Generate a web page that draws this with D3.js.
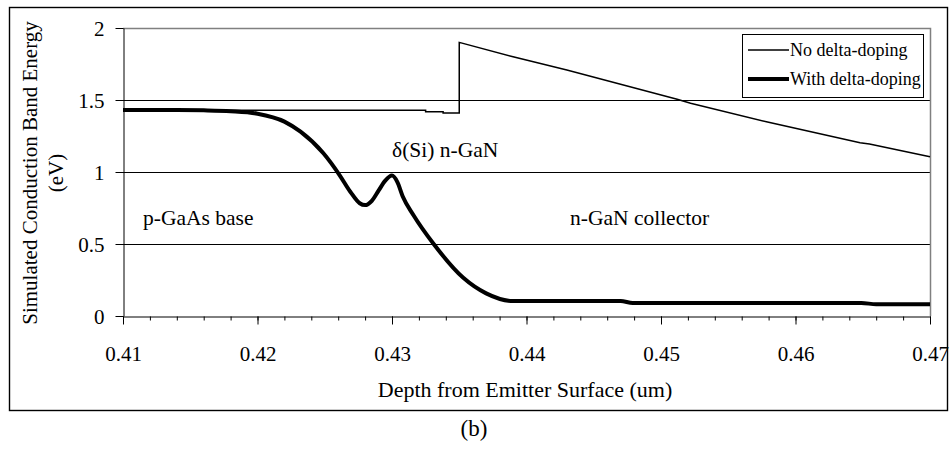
<!DOCTYPE html>
<html>
<head>
<meta charset="utf-8">
<script src="https://cdn.jsdelivr.net/npm/d3@7"></script>
<style>
  body { margin: 0; background: #fff; }
</style>
</head>
<body>
<div id="main"></div>
<script>
// depth (um) vs conduction band energy (eV)
var noDopingDepth  = [0.410, 0.4325, 0.4325, 0.4338, 0.4338, 0.4350, 0.4350, 0.4390, 0.4430, 0.4512, 0.4522, 0.4580, 0.4648, 0.4655, 0.4700];
var noDopingEnergy = [1.428, 1.428,  1.418,  1.418,  1.410,  1.410,  1.900,  1.800,  1.708,  1.505,  1.477,  1.345,  1.203,  1.195,  1.106];

var withDopingDepth  = [0.410, 0.414, 0.416, 0.418, 0.420, 0.422, 0.4232, 0.4249, 0.4261, 0.4269, 0.4276, 0.4280, 0.4285, 0.4290, 0.4295, 0.4300, 0.4304, 0.4308, 0.4316, 0.4331, 0.4353, 0.4370, 0.4390, 0.4470, 0.4479, 0.4649, 0.4660, 0.4700];
var withDopingEnergy = [1.430, 1.430, 1.428, 1.422, 1.405, 1.350, 1.280,  1.130,  0.979,  0.863,  0.783,  0.770,  0.800,  0.870,  0.940,  0.975,  0.930,  0.830,  0.700,  0.500,  0.265,  0.157,  0.104,  0.104,  0.090,  0.090,  0.082,  0.082];

var xTicks = [0.41, 0.42, 0.43, 0.44, 0.45, 0.46, 0.47];
var xMinorTicks = d3.range(0, 31).map(function(i) { return 0.41 + i * 0.002; });
var yTicks = [0, 0.5, 1, 1.5, 2];
var yGrid = [0.5, 1, 1.5];

var legendLabels = ["No delta-doping", "With delta-doping"];
var regionLabels = ["p-GaAs base", "\u03b4(Si) n-GaN", "n-GaN collector"];

var serif = '"Liberation Serif", "Times New Roman", serif';

var svg = d3.select("#main")
        .append("svg")
        .attr("width", 951)
        .attr("height", 451)
        .style("font-family", serif);

svg.append("rect")
    .attr("width", 951).attr("height", 451)
    .attr("fill", "#fff");

// outer frame
svg.append("rect")
    .attr("x", 9.5).attr("y", 7.5)
    .attr("width", 938).attr("height", 403)
    .attr("fill", "none")
    .attr("stroke", "#000")
    .attr("stroke-width", 1.4);

var plotLeft = 123, plotRight = 930, plotTop = 28, plotBottom = 316;

var x = d3.scaleLinear().domain([0.41, 0.47]).range([plotLeft, plotRight]);
var y = d3.scaleLinear().domain([0, 2]).range([plotBottom, plotTop]);

// gridlines
svg.append("g")
    .selectAll("line")
    .data(yGrid)
    .enter()
    .append("line")
    .attr("x1", plotLeft).attr("x2", plotRight)
    .attr("y1", function(d) { return Math.round(y(d)) + 0.5; })
    .attr("y2", function(d) { return Math.round(y(d)) + 0.5; })
    .attr("stroke", "#000")
    .attr("stroke-width", 1);

// plot area border (top, right)
svg.append("path")
    .attr("d", "M" + plotLeft + "," + (plotTop + 0.5) + "H" + (plotRight + 0.5) + "V" + plotBottom)
    .attr("fill", "none")
    .attr("stroke", "#808080")
    .attr("stroke-width", 1.5);

// x axis: minor ticks then major ticks with labels
svg.append("g")
    .attr("transform", "translate(0," + (plotBottom + 0.5) + ")")
    .call(d3.axisBottom(x).tickValues(xMinorTicks).tickSize(4).tickFormat(""))
    .call(function(g) { g.select(".domain").remove(); });

var xAxis = svg.append("g")
    .attr("transform", "translate(0," + (plotBottom + 0.5) + ")")
    .call(d3.axisBottom(x).tickValues(xTicks).tickSize(8).tickSizeOuter(0)
          .tickFormat(function(d) { return d3.format(".2f")(d); }));
xAxis.selectAll("text")
    .attr("y", 44).attr("dy", 0);

var yAxis = svg.append("g")
    .attr("transform", "translate(" + (plotLeft + 0.5) + ",0)")
    .call(d3.axisLeft(y).tickValues(yTicks).tickSize(8).tickSizeOuter(0)
          .tickFormat(function(d) { return String(d); }));
yAxis.selectAll("text")
    .attr("x", -19)
    .attr("dy", "0.35em");

svg.selectAll("g").attr("font-family", null).attr("font-size", null);
svg.selectAll(".tick text").style("font-size", "21px").attr("fill", "#000");
svg.selectAll(".tick line").attr("stroke", "#000");
svg.selectAll(".domain").attr("stroke", "#000");

// curves
var thinLine = d3.line()
        .x(function(d) { return x(d[0]); })
        .y(function(d) { return y(d[1]); });

var thickLine = d3.line()
        .curve(d3.curveMonotoneX)
        .x(function(d) { return x(d[0]); })
        .y(function(d) { return y(d[1]); });

svg.append("path")
    .datum(d3.zip(noDopingDepth, noDopingEnergy))
    .attr("d", thinLine)
    .attr("fill", "none")
    .attr("stroke", "#000")
    .attr("stroke-width", 1.5);

svg.append("path")
    .datum(d3.zip(withDopingDepth, withDopingEnergy))
    .attr("d", thickLine)
    .attr("fill", "none")
    .attr("stroke", "#000")
    .attr("stroke-width", 4)
    .attr("stroke-linejoin", "round");

// region annotations
var regionPos = [[143, 225], [392, 157], [570, 225]];
svg.append("g")
    .selectAll("text")
    .data(regionLabels)
    .enter()
    .append("text")
    .attr("x", function(d, i) { return regionPos[i][0]; })
    .attr("y", function(d, i) { return regionPos[i][1]; })
    .style("font-size", "21.5px")
    .text(function(d) { return d; });

// legend
var legend = svg.append("g");
legend.append("rect")
    .attr("x", 742.5).attr("y", 34.5)
    .attr("width", 181).attr("height", 63)
    .attr("fill", "#fff")
    .attr("stroke", "#000")
    .attr("stroke-width", 1);

var legendRows = legend.selectAll("g.row")
        .data(legendLabels)
        .enter()
        .append("g")
        .attr("class", "row")
        .attr("transform", function(d, i) { return "translate(748," + (50 + i * 29) + ")"; });

legendRows.append("line")
    .attr("x1", 0).attr("x2", 41)
    .attr("stroke", "#000")
    .attr("stroke-width", function(d, i) { return i === 0 ? 1.5 : 4; });

legendRows.append("text")
    .attr("x", 42)
    .attr("dy", "0.33em")
    .style("font-size", "18px")
    .text(function(d) { return d; });

// axis titles
svg.append("text")
    .attr("x", 525).attr("y", 397)
    .attr("text-anchor", "middle")
    .style("font-size", "22px")
    .text("Depth from Emitter Surface (um)");

var yTitle = svg.append("text")
    .attr("transform", "rotate(-90)")
    .attr("text-anchor", "middle")
    .style("font-size", "21px");
yTitle.append("tspan")
    .attr("x", -173).attr("y", 37)
    .text("Simulated Conduction Band Energy");
yTitle.append("tspan")
    .attr("x", -173).attr("y", 63)
    .text("(eV)");

svg.append("text")
    .attr("x", 474).attr("y", 436)
    .attr("text-anchor", "middle")
    .style("font-size", "23px")
    .text("(b)");
</script>
</body>
</html>
